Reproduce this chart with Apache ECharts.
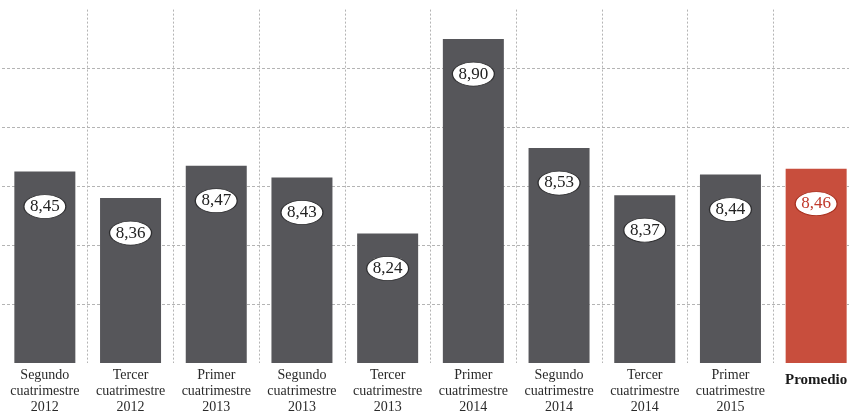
<!DOCTYPE html>
<html>
<head>
<meta charset="utf-8">
<style>
  html, body { margin: 0; padding: 0; background: #ffffff; }
  #chart { width: 849px; height: 415px; }
</style>
<script src="https://cdn.jsdelivr.net/npm/echarts@6/dist/echarts.min.js"></script>
</head>
<body>
<div id="chart"></div>
<script>
// Periods (last one is the overall average)
const categories = [
  'Segundo\ncuatrimestre\n2012',
  'Tercer\ncuatrimestre\n2012',
  'Primer\ncuatrimestre\n2013',
  'Segundo\ncuatrimestre\n2013',
  'Tercer\ncuatrimestre\n2013',
  'Primer\ncuatrimestre\n2014',
  'Segundo\ncuatrimestre\n2014',
  'Tercer\ncuatrimestre\n2014',
  'Primer\ncuatrimestre\n2015',
  'Promedio'
];
const scores = [8.45, 8.36, 8.47, 8.43, 8.24, 8.90, 8.53, 8.37, 8.44, 8.46];
const averageIndex = 9;

const yMin = 7.8;
const yMax = 9.0;
const yStep = 0.2;

const GRAY = '#56565a';
const RED = '#c84e3d';
const SERIF = '"Liberation Serif", "DejaVu Serif", serif';

const fmt = v => v.toFixed(2).replace('.', ',');

const barData = scores.map((v, i) => ({
  value: v,
  itemStyle: { color: i === averageIndex ? RED : GRAY }
}));

const badgeData = scores.map((v, i) => ({
  value: v,
  itemStyle: {
    color: '#ffffff',
    opacity: 1,
    borderColor: i === averageIndex ? '#a8301f' : '#2e2e30',
    borderWidth: 1
  },
  label: { color: i === averageIndex ? '#c0392b' : '#222222' }
}));

const gridColor = '#b4b4b4';
const vLineColors = categories.map((_, i) => i === 0 ? 'transparent' : gridColor).concat([gridColor]);
const hCount = Math.round((yMax - yMin) / yStep) + 1;
const hLineColors = Array.from({ length: hCount }, (_, i) =>
  (i === 0 || i === hCount - 1) ? 'transparent' : gridColor);

const chart = echarts.init(document.getElementById('chart'), null, { renderer: 'canvas' });

chart.setOption({
  backgroundColor: '#ffffff',
  animation: false,
  grid: {
    left: 2, top: 9.6, width: 857, height: 353.4,
    containLabel: false,
    outerBoundsMode: 'none'
  },
  xAxis: {
    type: 'category',
    data: categories,
    boundaryGap: true,
    axisLine: { show: false },
    axisTick: { show: false },
    splitLine: {
      show: true,
      lineStyle: { color: vLineColors, type: [2, 2], width: 1 }
    },
    axisLabel: {
      interval: 0,
      margin: 4,
      fontFamily: SERIF,
      fontSize: 14,
      lineHeight: 16,
      color: '#2a2a2a',
      formatter: v => v === 'Promedio' ? '{b|Promedio}' : v,
      rich: {
        b: { fontFamily: SERIF, fontSize: 15, fontWeight: 'bold', color: '#1a1a1a', lineHeight: 27 }
      }
    }
  },
  yAxis: {
    type: 'value',
    min: yMin,
    max: yMax,
    interval: yStep,
    axisLine: { show: false },
    axisTick: { show: false },
    axisLabel: { show: false },
    splitLine: {
      show: true,
      lineStyle: { color: hLineColors, type: [3, 2], width: 1 }
    }
  },
  series: [
    {
      type: 'bar',
      data: barData,
      barWidth: 61,
      z: 2
    },
    {
      type: 'scatter',
      data: badgeData,
      symbol: 'circle',
      symbolSize: [42, 24],
      symbolOffset: [0, 35],
      z: 3,
      itemStyle: { opacity: 1 },
      label: {
        show: true,
        position: 'inside',
        fontFamily: SERIF,
        fontSize: 17,
        formatter: p => fmt(p.value)
      },
      emphasis: { disabled: true }
    }
  ]
});
</script>
</body>
</html>
